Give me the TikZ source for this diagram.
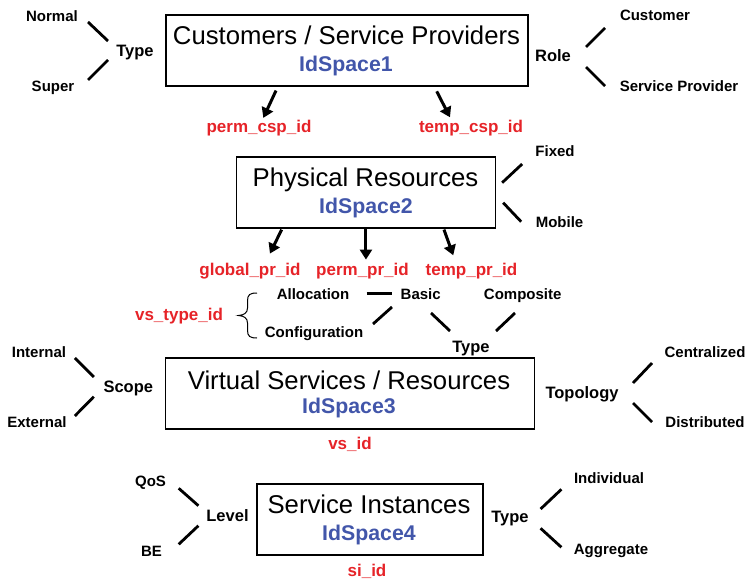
\documentclass[tikz,border=0pt]{standalone}
\usepackage{fontspec}
\setmainfont{Liberation Sans}
\usetikzlibrary{arrows.meta}
\definecolor{idred}{RGB}{230,35,40}
\definecolor{idblue}{RGB}{66,86,170}
\begin{document}
\begin{tikzpicture}[x=1pt,y=-1pt,
  box/.style={draw,line width=1.2pt,minimum width=#1,minimum height=71pt,inner sep=0pt},
  ttl/.style={anchor=base,inner sep=0pt,font=\fontsize{25.7}{28}\selectfont},
  ids/.style={anchor=base,inner sep=0pt,text=idblue,font=\fontsize{21.3}{24}\selectfont\bfseries},
  redl/.style={anchor=base,inner sep=0pt,text=idred,font=\fontsize{17}{20}\selectfont\bfseries},
  leaf/.style={anchor=base,inner sep=0pt,font=\fontsize{15}{18}\selectfont\bfseries},
  cat/.style={anchor=base,inner sep=0pt,font=\fontsize{16.5}{19}\selectfont\bfseries},
  conn/.style={line width=2.8pt},
  arr/.style={line width=3pt,-{Triangle[length=10pt,width=12pt]}}]
\useasboundingbox (0,0) rectangle (747,580);

% ---------- boxes ----------
\node[box=362pt] (box1) at (347,50.5) {};
\node[box=259pt] (box2) at (366.35,192.5) {};
\node[box=369pt] (box3) at (350,393.5) {};
\node[box=226pt] (box4) at (370,519.5) {};

\node[ttl] (t1) at (346.5,45) {Customers / Service Providers};
\node[ids] (i1) at (346,71.7) {IdSpace1};
\node[ttl] (t2) at (365.5,187) {Physical Resources};
\node[ids] (i2) at (366,214) {IdSpace2};
\node[ttl] (t3) at (349,389) {Virtual Services / Resources};
\node[ids] (i3) at (349,413) {IdSpace3};
\node[ttl] (t4) at (369,513) {Service Instances};
\node[ids] (i4) at (369,540) {IdSpace4};

% ---------- red identifiers ----------
\node[redl] (permcsp) at (259,133) {perm\_csp\_id};
\node[redl] (tempcsp) at (471,133) {temp\_csp\_id};
\node[redl] (globalpr) at (250,275) {global\_pr\_id};
\node[redl] (permpr) at (362.5,275) {perm\_pr\_id};
\node[redl] (temppr) at (471.5,275) {temp\_pr\_id};
\node[redl] (vstype) at (179,320) {vs\_type\_id};
\node[redl] (vsid) at (350,449.3) {vs\_id};
\node[redl] (siid) at (367,576) {si\_id};

% ---------- labels ----------
\node[leaf] (normal) at (52,21.4) {Normal};
\node[leaf] (super) at (53,92) {Super};
\node[cat] (type1) at (135,56.4) {Type};
\node[leaf] (customer) at (655,20.7) {Customer};
\node[leaf] (sprov) at (679,91.7) {Service Provider};
\node[cat] (role) at (553,61.7) {Role};
\node[leaf] (fixed) at (555,156.7) {Fixed};
\node[leaf] (mobile) at (559.5,227.3) {Mobile};
\node[leaf] (alloc) at (313,299) {Allocation};
\node[leaf] (basic) at (420.7,299) {Basic};
\node[leaf] (compo) at (522.7,299) {Composite};
\node[leaf] (config) at (314,337.3) {Configuration};
\node[cat] (typemid) at (471,352.7) {Type};
\node[leaf] (internal) at (39,357.3) {Internal};
\node[leaf] (external) at (37,427.3) {External};
\node[cat] (scope) at (128.3,392.7) {Scope};
\node[cat] (topo) at (582,398.3) {Topology};
\node[leaf] (central) at (705,357.3) {Centralized};
\node[leaf] (distrib) at (705,427.3) {Distributed};
\node[leaf] (qos) at (150.5,486) {QoS};
\node[leaf] (be) at (151.5,556.7) {BE};
\node[cat] (level) at (227.5,521) {Level};
\node[cat] (type4) at (510,522) {Type};
\node[leaf] (indiv) at (609,483.3) {Individual};
\node[leaf] (aggr) at (611,554.3) {Aggregate};

% ---------- arrows ----------
\draw[arr] (box1.south) ++(-71,4) -- ++(-12.7,27.3);
\draw[arr] (box1.south) ++(89.7,4.7) -- ++(13.3,26);
\draw[arr] (box2.south) ++(-84.7,1) -- ++(-11.7,24);
\draw[arr] (box2.south) ++(-0.4,0.5) -- ++(0,30.5);
\draw[arr] (box2.south) ++(77.6,1) -- ++(9.3,25.7);

% ---------- connectors ----------
\draw[conn] (type1.base) ++(-27,-15.4) -- ++(-20,-19);
\draw[conn] (type1.base) ++(-27,3.6) -- ++(-20,20);
\draw[conn] (role.base) ++(33,-14.7) -- ++(19,-19);
\draw[conn] (role.base) ++(33,5.3) -- ++(19,19);
\draw[conn] (box2.east) ++(5.7,-9.8) -- ++(20,-18.7);
\draw[conn] (box2.east) ++(6.7,10.2) -- ++(18,19);
\draw[conn] (basic.base) ++(-54,-5.7) -- ++(25,0);
\draw[conn] (basic.base) ++(-28.7,8) -- ++(-19,17);
\draw[conn] (typemid.base) ++(-40,-39.7) -- ++(19,18);
\draw[conn] (typemid.base) ++(44,-39.7) -- ++(-19,18);
\draw[conn] (scope.base) ++(-34.5,-15.7) -- ++(-19,-19);
\draw[conn] (scope.base) ++(-34.5,4) -- ++(-19,19.3);
\draw[conn] (topo.base) ++(51,-15.3) -- ++(19,-20);
\draw[conn] (topo.base) ++(51,4.7) -- ++(19,19);
\draw[conn] (level.base) ++(-29.1,-15.3) -- ++(-19.7,-17.4);
\draw[conn] (level.base) ++(-29.1,4.7) -- ++(-19.7,18.6);
\draw[conn] (type4.base) ++(30.6,-13) -- ++(20.8,-19.7);
\draw[conn] (type4.base) ++(30.6,6.3) -- ++(20.8,19);

% ---------- brace ----------
\draw[line width=1pt] (257,293) .. controls (250,293) and (247.5,294.5) .. (247.5,301)
  -- (247.5,308) .. controls (247.5,313) and (244,315) .. (238.5,315.5)
  .. controls (244,316) and (247.5,318) .. (247.5,323)
  -- (247.5,330) .. controls (247.5,336.5) and (250,338) .. (257,338);
\end{tikzpicture}
\end{document}
